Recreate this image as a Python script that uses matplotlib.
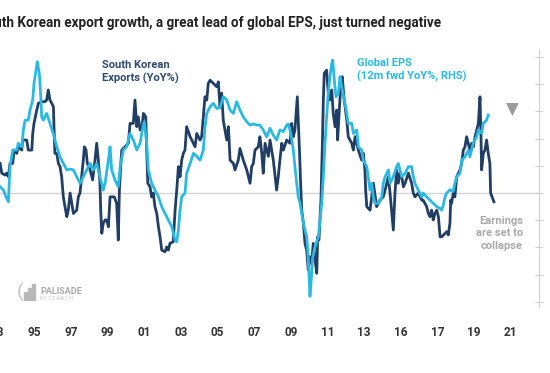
import numpy as np
import matplotlib.pyplot as plt

plt.rcParams['font.family'] = ['Roboto', 'DejaVu Sans']

# South Korean exports, YoY % (left axis)
kr_year = [1993.13, 1993.22, 1993.40, 1993.49, 1993.58, 1993.67, 1993.82, 1993.89, 1994.04, 1994.12,
           1994.31, 1994.36, 1994.58, 1994.67, 1994.86, 1994.91, 1994.98, 1995.13, 1995.22, 1995.40,
           1995.58, 1995.67, 1995.76, 1995.85, 1995.95, 1996.04, 1996.07, 1996.12, 1996.22, 1996.31,
           1996.40, 1996.49, 1996.58, 1996.67, 1996.77, 1996.85, 1996.95, 1997.04, 1997.13, 1997.31,
           1997.40, 1997.49, 1997.58, 1997.67, 1997.73, 1997.82, 1997.89, 1998.04, 1998.18, 1998.31,
           1998.40, 1998.49, 1998.58, 1998.62, 1998.68, 1998.76, 1998.86, 1998.95, 1999.04, 1999.13,
           1999.36, 1999.49, 1999.58, 1999.64, 1999.73, 1999.77, 1999.95, 2000.13, 2000.22, 2000.40,
           2000.49, 2000.59, 2000.67, 2000.77, 2000.86, 2000.95, 2001.08, 2001.13, 2001.19, 2001.31,
           2001.40, 2001.49, 2001.58, 2001.68, 2001.77, 2001.86, 2001.95, 2002.13, 2002.22, 2002.31,
           2002.40, 2002.58, 2002.68, 2002.77, 2002.86, 2002.95, 2003.04, 2003.13, 2003.22, 2003.31,
           2003.50, 2003.59, 2003.77, 2003.86, 2004.04, 2004.13, 2004.22, 2004.31, 2004.41, 2004.49,
           2004.59, 2004.77, 2004.95, 2005.04, 2005.13, 2005.22, 2005.31, 2005.40, 2005.50, 2005.59,
           2005.68, 2005.86, 2005.95, 2006.13, 2006.22, 2006.40, 2006.59, 2006.77, 2006.86, 2006.95,
           2007.04, 2007.22, 2007.31, 2007.41, 2007.49, 2007.59, 2007.77, 2007.86, 2008.04, 2008.22,
           2008.31, 2008.40, 2008.50, 2008.59, 2008.77, 2008.95, 2009.04, 2009.13, 2009.22, 2009.35,
           2009.46, 2009.53, 2009.59, 2009.68, 2009.77, 2009.86, 2009.95, 2010.04, 2010.13, 2010.22,
           2010.31, 2010.41, 2010.46, 2010.53, 2010.64, 2010.71, 2010.77, 2010.82, 2010.95, 2011.04,
           2011.13, 2011.23, 2011.31, 2011.41, 2011.50, 2011.55, 2011.62, 2011.73, 2011.80, 2011.91,
           2012.05, 2012.13, 2012.32, 2012.41, 2012.50, 2012.68, 2012.86, 2012.95, 2013.04, 2013.08,
           2013.14, 2013.32, 2013.41, 2013.50, 2013.68, 2013.86, 2014.04, 2014.14, 2014.32, 2014.41,
           2014.59, 2014.68, 2014.77, 2014.86, 2014.95, 2015.05, 2015.14, 2015.23, 2015.41, 2015.59,
           2015.68, 2015.77, 2015.95, 2016.14, 2016.22, 2016.41, 2016.50, 2016.59, 2016.68, 2016.77,
           2016.86, 2016.96, 2017.05, 2017.14, 2017.23, 2017.41, 2017.50, 2017.59, 2017.68, 2017.72,
           2017.77, 2017.86, 2017.95, 2018.05, 2018.14, 2018.23, 2018.32, 2018.41, 2018.50, 2018.59,
           2018.68, 2018.77, 2018.87, 2018.95, 2019.05, 2019.14, 2019.23, 2019.32, 2019.37, 2019.41,
           2019.50, 2019.59, 2019.68, 2019.77, 2019.86, 2019.90, 2020.01, 2020.08]
kr_exports = [10.9, 7.3, 6.6, 7.3, 6.0, 10.9, 10.9, 15.8, 14.6, 17.0,
              15.8, 19.5, 19.5, 15.8, 15.8, 21.9, 25.6, 30.5, 33.0, 33.6,
              33.6, 34.2, 37.9, 34.2, 33.0, 31.7, 24.4, 14.6, 14.6, 10.9,
              9.7, 6.0, -1.4, -5.0, -8.7, -6.3, 0.0, -3.8, -7.5, -6.3,
              -1.4, 0.0, 6.0, 12.1, 17.0, 15.8, 10.9, 8.5, 4.8, 12.1,
              18.3, 12.1, 3.6, -6.3, -14.8, -11.1, -9.9, -9.9, -12.4, -1.4,
              -1.4, -3.8, -17.3, 1.1, 12.1, 15.8, 17.0, 18.3, 25.6, 25.6,
              34.2, 24.4, 28.0, 23.2, 23.2, 29.3, 28.0, 15.8, 3.6, 2.3,
              -1.4, 0.0, -5.0, -7.5, -12.4, -16.1, -21.0, -21.6, -19.8, -21.0,
              -18.5, -17.9, -6.3, 1.1, 9.7, 6.0, 12.1, 14.6, 15.8, 24.4,
              20.7, 19.5, 17.0, 21.9, 19.5, 20.7, 28.0, 35.4, 34.2, 40.3,
              41.5, 40.3, 39.1, 40.9, 31.7, 36.7, 26.8, 23.2, 19.5, 24.4,
              12.1, 10.9, 8.5, 12.1, 16.4, 12.1, 8.5, 3.6, 9.7, 10.9,
              15.8, 17.0, 20.7, 14.6, 7.3, 18.3, 13.5, 19.5, 12.1, 1.1,
              6.0, 12.1, 18.3, 15.8, 19.5, 18.3, 25.6, 20.7, 23.2, 35.4,
              17.0, 3.6, -6.3, -11.1, -18.5, -21.0, -28.3, -23.4, -25.9, -18.5,
              -24.0, -29.5, -16.1, -17.3, -2.6, 15.8, 34.2, 44.0, 45.2, 36.7,
              34.2, 37.9, 29.3, 24.4, 30.5, 19.5, 28.0, 40.3, 42.8, 34.2,
              26.8, 20.7, 18.3, 15.8, 20.7, 15.8, 12.1, 14.6, 8.5, 1.1,
              -5.0, -6.3, -1.4, 3.6, -5.0, -2.6, -1.4, 1.1, 6.0, 0.0,
              -13.6, 0.0, 8.5, 3.6, 7.3, 6.0, 2.3, 3.6, 7.3, 3.6,
              0.0, -1.4, 0.0, -2.6, -2.6, -5.0, -7.5, -8.7, -6.3, -9.9,
              -7.5, -6.3, -8.7, -16.1, -16.1, -14.8, -14.2, -15.4, -11.1, -2.6,
              -3.8, 0.0, -1.4, 6.0, 7.3, 8.5, 10.9, 15.8, 17.0, 20.7,
              18.3, 15.8, 18.3, 17.0, 20.7, 23.2, 25.6, 35.4, 21.9, 8.5,
              14.6, 15.8, 19.5, 14.6, 10.9, 0.0, -1.9, -3.2]

# Global EPS, 12m forward YoY % (right axis)
eps_year = [1993.13, 1993.31, 1993.45, 1993.58, 1993.63, 1993.67, 1993.82, 1994.04, 1994.12, 1994.31,
            1994.40, 1994.49, 1994.67, 1994.76, 1994.91, 1994.98, 1995.09, 1995.16, 1995.27, 1995.35,
            1995.40, 1995.49, 1995.67, 1995.85, 1996.03, 1996.22, 1996.40, 1996.58, 1996.77, 1996.95,
            1997.13, 1997.31, 1997.49, 1997.67, 1997.86, 1998.04, 1998.22, 1998.40, 1998.58, 1998.76,
            1998.86, 1999.04, 1999.13, 1999.22, 1999.40, 1999.58, 1999.68, 1999.86, 2000.04, 2000.22,
            2000.40, 2000.59, 2000.77, 2000.89, 2001.00, 2001.13, 2001.22, 2001.40, 2001.58, 2001.77,
            2001.95, 2002.13, 2002.31, 2002.50, 2002.68, 2002.77, 2002.86, 2002.95, 2003.04, 2003.22,
            2003.31, 2003.50, 2003.68, 2003.86, 2004.04, 2004.22, 2004.31, 2004.41, 2004.59, 2004.77,
            2004.95, 2005.13, 2005.31, 2005.50, 2005.68, 2005.86, 2006.04, 2006.22, 2006.40, 2006.59,
            2006.77, 2006.95, 2007.13, 2007.31, 2007.49, 2007.68, 2007.86, 2008.04, 2008.22, 2008.40,
            2008.59, 2008.77, 2008.86, 2008.95, 2009.04, 2009.13, 2009.22, 2009.32, 2009.40, 2009.50,
            2009.59, 2009.68, 2009.77, 2009.86, 2009.93, 2009.99, 2010.04, 2010.12, 2010.18, 2010.31,
            2010.50, 2010.68, 2010.77, 2010.86, 2010.95, 2011.04, 2011.13, 2011.23, 2011.28, 2011.37,
            2011.46, 2011.59, 2011.68, 2011.77, 2011.95, 2012.05, 2012.13, 2012.32, 2012.41, 2012.59,
            2012.68, 2012.86, 2012.95, 2013.14, 2013.22, 2013.32, 2013.41, 2013.50, 2013.59, 2013.77,
            2013.96, 2014.04, 2014.14, 2014.32, 2014.41, 2014.59, 2014.77, 2014.86, 2014.95, 2015.05,
            2015.23, 2015.41, 2015.59, 2015.68, 2015.77, 2015.95, 2016.14, 2016.22, 2016.41, 2016.59,
            2016.77, 2016.96, 2017.14, 2017.23, 2017.32, 2017.41, 2017.50, 2017.68, 2017.86, 2017.95,
            2018.05, 2018.23, 2018.32, 2018.50, 2018.68, 2018.77, 2018.95, 2019.14, 2019.23, 2019.41,
            2019.50, 2019.68, 2019.77]
global_eps = [2.3, 1.1, -1.4, -3.2, 3.7, 9.7, 15.8, 15.8, 18.3, 17.0,
              23.2, 26.8, 26.8, 30.5, 34.2, 40.3, 45.2, 48.3, 44.0, 35.4,
              28.0, 26.8, 29.3, 25.6, 21.9, 17.0, 13.3, 10.9, 8.5, 8.8,
              8.5, 6.0, 3.6, 6.0, 8.5, 10.9, 8.5, 10.9, 6.0, 1.1,
              3.6, 12.1, 17.0, 8.5, 4.8, 2.3, 9.7, 15.8, 17.0, 21.9,
              19.5, 15.8, 18.3, 23.2, 26.2, 18.3, 8.5, 3.6, 1.1, -1.4,
              -5.0, -7.5, -9.9, -12.4, -17.3, -17.9, -13.6, -6.3, -1.4, 0.0,
              7.3, 10.9, 14.6, 13.5, 12.1, 15.8, 24.4, 29.3, 31.7, 33.0,
              31.1, 31.4, 35.4, 34.2, 30.5, 29.3, 33.6, 30.5, 28.0, 26.2,
              25.0, 25.4, 25.0, 25.0, 23.2, 20.7, 23.8, 21.3, 19.5, 23.2,
              22.6, 25.0, 25.4, 23.2, 20.1, 15.8, 9.7, 3.6, -1.4, -3.8,
              -7.5, -11.1, -13.6, -16.1, -22.0, -30.0, -38.0, -31.0, -24.0, -20.0,
              -16.1, -3.8, 6.0, 18.3, 28.0, 36.7, 42.8, 47.7, 48.9, 41.5,
              35.4, 36.7, 42.8, 39.1, 33.0, 29.3, 25.6, 25.6, 21.9, 23.2,
              17.0, 15.8, 12.1, 9.7, 6.0, 1.1, 3.6, -1.4, -3.8, -3.8,
              -1.4, 3.6, 6.0, 8.5, 3.6, 6.0, 9.7, 10.9, 8.5, 6.0,
              7.3, 9.7, 9.7, 6.0, 3.6, 1.1, -1.4, 0.0, -1.4, -2.6,
              -3.8, -5.0, -5.6, -6.3, -4.4, -1.4, 0.0, 1.2, 0.6, 3.6,
              6.0, 7.3, 12.1, 13.3, 15.8, 13.3, 18.3, 20.7, 23.2, 22.0,
              25.6, 26.8, 28.7]

tick_years = [1993, 1995, 1997, 1999, 2001, 2003, 2005, 2007, 2009, 2011, 2013, 2015, 2017, 2019, 2021]
tick_labels = ['93', '95', '97', '99', '01', '03', '05', '07', '09', '11', '13', '16', '17', '19', '21']

navy = '#213f66'
cyan = '#2bb9e3'
W, H = 550, 373


def fx(x):
    return x / W


def fy(y):
    return 1 - y / H


fig = plt.figure(figsize=(5.5, 3.73), dpi=100)
ax = fig.add_axes([fx(-20.6), fy(307), (539 + 20.6) / W, 257 / H])
ax2 = ax.twinx()

ax.axhline(0, color='#d6d6d6', lw=1, zorder=0)
ax.plot(kr_year, kr_exports, color=navy, lw=2.0, solid_joinstyle='round')
ax2.plot(eps_year, global_eps, color=cyan, lw=2.0, solid_joinstyle='round')

for a in (ax, ax2):
    a.set_xlim(1992.0, 2022.54)
    a.set_ylim(-41.9, 52.6)
    for s in ['top', 'left', 'bottom', 'right']:
        a.spines[s].set_visible(False)
    a.patch.set_visible(False)

ax.set_yticks([])
ax2.spines['right'].set_visible(True)
ax2.spines['right'].set_color('#cfcfcf')
ax2.set_yticks(np.arange(-40, 51, 10))
ax2.tick_params(axis='y', direction='inout', length=6, color='#cfcfcf', labelright=False)

ax.set_xticks(tick_years)
ax.set_xticklabels(tick_labels, fontsize=8.5, fontweight='bold', color='#333333')
ax.tick_params(axis='x', length=0, pad=14)

fig.text(fx(441), fy(23), 'South Korean export growth, a great lead of global EPS, just turned negative',
         ha='right', va='center', fontsize=9.75, fontweight='bold', color='#222222')

fig.text(fx(102), fy(60), 'South Korean\nExports (YoY%)', ha='left', va='top',
         fontsize=8, fontweight='bold', color='#2d4a70', linespacing=1.3)
fig.text(fx(357), fy(58), 'Global EPS\n(12m fwd YoY%, RHS)', ha='left', va='top',
         fontsize=8, fontweight='bold', color=cyan, linespacing=1.3)
fig.text(fx(523), fy(216), 'Earnings\nare set to\ncollapse', ha='right', va='top',
         multialignment='right', fontsize=8, fontweight='bold', color='#aaaaaa', linespacing=1.3)
fig.text(fx(512), fy(110), '\u25BC', ha='center', va='center', fontsize=12,
         color='#9a9a9a', family='DejaVu Sans')

# logo
fig.text(fx(40), fy(291), 'PALISADE', ha='left', va='center', fontsize=6.5,
         fontweight='bold', color='#a9a9a9')
fig.text(fx(40), fy(298.5), 'R E S E A R C H', ha='left', va='center', fontsize=3.5,
         color='#c4c4c4')
for i, h in enumerate([8, 12, 16]):
    fig.patches.append(plt.Rectangle((fx(24 + i * 4), fy(300)), 2.5 / W, h / H,
                                     transform=fig.transFigure, color='#b8b8b8'))
fig.text(fx(20), fy(292), '(', ha='center', va='center', fontsize=14, color='#c4c4c4')

fig.savefig('out.png', dpi=100)
